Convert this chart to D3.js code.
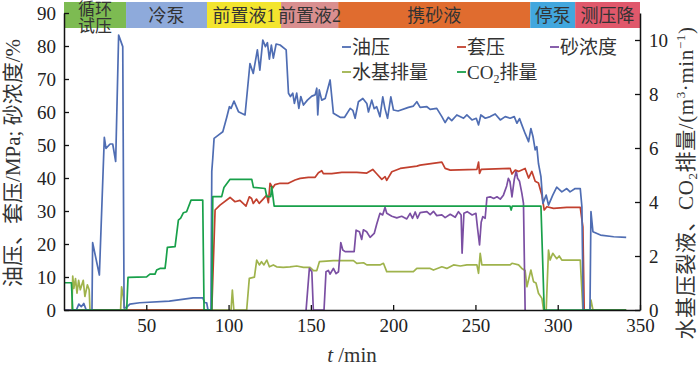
<!DOCTYPE html>
<html>
<head>
<meta charset="utf-8">
<script src="https://cdn.jsdelivr.net/npm/d3@7"></script>
<style>
	body { margin:0; background:#fff; }
	svg { display:block; }
	.tick text { font-family:'Liberation Serif','Noto Sans CJK SC',serif; font-size:19px; fill:#222; }
	.cn { font-family:'Liberation Serif','Noto Sans CJK SC',serif; fill:#333; }
</style>
</head>
<body>
<script>
// stages of the job (minutes)
var phaseNames = ['循环\n试压','冷泵','前置液1','前置液2','携砂液','停泵','测压降'];
var phaseStart = [0,37.7,86.9,131.9,166.6,283.3,310.6];
var phaseEnd = 350;
var phaseColors = ['#7dbb52','#8eaadb','#f3e52e','#d98f8f','#e06c2f','#42a7de','#e0586b'];

var xTicks = [50,100,150,200,250,300,350];
var leftTicks = [0,10,20,30,40,50,60,70,80,90];
var rightTicks = [0,2,4,6,8,10];

// 油压 MPa
var oilPressure = [[0,0],[7.5,0],[9,1.8],[10.5,1],[12,2],[13.5,0],[17,0],[17.4,20.4],[21.5,10.6],[24.5,52.3],[25.5,49],[28,50.3],[29.6,50.3],[31.4,45],[33.2,83.3],[35.7,79.8],[36.5,0.6],[38,0.8],[40,1.8],[46,2.2],[64,2.7],[78.5,3.7],[84.3,3.7],[85.5,2.2],[86.7,2.2],[87.5,0],[89.3,0],[89.8,42],[90.4,46],[91.2,52],[93.8,53],[96.5,54],[98.9,58.4],[100.5,61.6],[101.5,61.1],[103.3,63.3],[106,60.1],[110,59.1],[113,74.7],[115,71.7],[117.5,78.8],[119,72.7],[120.8,81.8],[122.4,79.8],[123.6,81],[124.8,76],[126,80.3],[127.2,76.3],[128.9,80.6],[131.3,80.3],[135,78.8],[136.4,65.7],[137.6,64.7],[139,65.7],[140,62.6],[141.4,65.7],[142.7,61.1],[143.9,64.7],[145.5,62.1],[147.9,63.6],[150.6,64.8],[152.6,65.2],[153.6,67.2],[154.2,59.1],[155.1,66.7],[156.6,63.6],[158.7,64.1],[161.7,69.7],[163.7,59.6],[167.8,58.4],[170.5,58.4],[173.9,61.1],[175.5,60.5],[176.9,58.1],[178.9,63.1],[181.6,64.1],[184,62.6],[185,60],[187,63.6],[188.5,61],[190,61.6],[192,58.6],[193.7,64.6],[195,61.1],[196.6,58.1],[198.6,64.6],[200.2,60.6],[203,60.3],[209.3,61.4],[212.3,61.8],[214.4,63.1],[216.4,61.4],[220.5,61.6],[222.5,60.8],[226.5,61.1],[229.6,58.6],[231.6,56.8],[233.6,58.4],[235.6,57.4],[238.7,59.1],[242.8,58.1],[244.8,59.1],[247.9,57.6],[250.5,58.1],[251.9,56.1],[253.3,59.1],[256,58.1],[259,58.6],[262,59.4],[265.1,57.6],[268.1,58.6],[271.1,58.1],[273.6,58.6],[275.2,56.6],[276.8,58],[278.2,56.1],[280.2,53.5],[282.3,51],[283.7,55],[285,52.5],[286.3,48.5],[287.3,49.5],[288.3,44.4],[289.8,40.4],[291,32.3],[293,34.8],[294.4,31.8],[297,34.8],[299.4,37.2],[302.5,35.8],[305.5,36.8],[307.5,35.8],[310.6,36.8],[313.7,36.8],[314.7,31.3],[315.5,0],[319.6,0],[320.2,29.8],[321.4,23.7],[326,22.7],[334,22.2],[341.6,22]];
// 套压 MPa
var casingPressure = [[0,0],[89.8,0],[91.8,30.3],[94.8,31.8],[100.9,34.1],[103.9,32.8],[106.9,33.2],[110.6,31.5],[112.6,34.3],[114,33.8],[115,32.3],[117,33.6],[118.6,32.3],[121,33.6],[123.2,34.8],[124.2,32.5],[125.2,38.4],[126.8,37],[128.2,38],[131.3,38.4],[136.3,38.4],[140.4,39.4],[143.5,39.9],[148.5,40.2],[152.6,40.2],[154.6,41.6],[156.6,42.2],[157.6,41.3],[162.7,41.3],[168.8,41.7],[177.9,41.7],[184,41.5],[187.6,42.6],[190,41.3],[193.1,39.6],[195.1,40.4],[196.1,39.3],[199.2,41.9],[204.3,42.9],[214.4,43.6],[216.4,43.9],[229.6,44.8],[231.6,42.9],[234.7,42.4],[250.9,42.6],[251.9,44.8],[252.5,41.4],[253.5,42.6],[271.1,42.9],[272.2,41.2],[274.2,42.4],[276.2,42],[280.2,42.9],[282.3,40],[284.3,42],[286.3,39],[288.3,38.5],[290.4,34.8],[291.8,30.3],[293.4,31.3],[297.5,30.8],[305.5,31.1],[313.7,31.1],[315.3,25.2],[316.1,0],[341.6,0]];
// 砂浓度 %
var sandConc = [[147.1,0],[149.1,12.6],[150.6,11.6],[151.5,0],[158,0],[159.2,11.6],[160.6,12],[161.7,10.9],[163.7,12.6],[165.3,11],[166.8,11.6],[168.2,20.4],[169.4,18.2],[170.8,17.7],[176.3,17.7],[177.5,24.2],[179.5,23.7],[180.9,21.4],[181.9,24.3],[183.9,23.7],[186,22],[188.5,23.2],[190,26],[192,29.3],[193.6,28.8],[195.1,31.1],[196.1,29.3],[199.2,28.4],[202.2,27.9],[205.2,28.4],[208.3,27.6],[210.3,29.3],[211.8,27.8],[213.4,29.7],[214.8,27.8],[216.4,29.5],[220.5,29.8],[222.5,28.9],[224.5,29.9],[226.5,28.6],[229.6,28.8],[231.6,28],[234.7,29],[237.7,28.1],[239.7,29.8],[241.3,28.8],[241.9,17.2],[243,29.3],[245,29.8],[248,28.8],[250.3,29.3],[251.3,24.7],[252.5,19.7],[253.5,26.6],[254.5,28.3],[255.9,27.8],[257,34.1],[259,34.3],[261.1,33.8],[263.1,34.3],[265.1,33.6],[267,34.8],[269,37.6],[270,39.9],[271,38.9],[272.2,34.3],[273.6,39.6],[274.8,42.2],[275.6,39.9],[276.8,39],[278.2,35.4],[279.2,32.3],[280.2,0]];
// 水基排量 m3/min
var waterRate = [[0,0],[4.8,0],[5.3,1.26],[6,0.8],[7,1.16],[7.9,0.62],[8.9,1.1],[9.9,0.75],[11.7,1.1],[12.7,0.5],[14.2,0.93],[15.3,0.75],[15.8,0],[34.4,0],[35,0.86],[36,0.5],[37,0],[101.5,0],[102.3,0.74],[103.2,0],[111,0],[112.6,1.17],[115.7,1.22],[117.1,1.85],[118.7,1.67],[120,1.79],[121.5,1.67],[123.2,1.85],[124.8,1.6],[127.2,1.67],[129.2,1.6],[133.2,1.58],[137.3,1.6],[141.4,1.63],[145.5,1.58],[149.5,1.58],[151.6,1.46],[153.6,1.46],[155.2,1.79],[163.6,1.83],[175.9,1.83],[177.9,1.73],[182,1.75],[184,1.67],[192,1.67],[194.1,1.73],[196.1,1.42],[212.3,1.42],[214.4,1.54],[222.5,1.54],[224.5,1.48],[229.6,1.6],[232.6,1.54],[236.7,1.67],[240.8,1.63],[244.8,1.67],[250.9,1.67],[251.9,1.36],[252.9,2.1],[253.9,1.67],[271.1,1.67],[272.2,1.73],[276.2,1.67],[278.2,1.54],[280.2,1.46],[281.3,0.86],[283.7,1.48],[285.3,1.05],[286.8,1],[288.3,0.62],[290.4,0.43],[291.4,0],[293,0],[294.4,2.22],[295.4,1.85],[297,2.1],[299.4,1.9],[300.9,2.0],[302.5,1.85],[313.7,1.85],[315.3,0],[319.6,0],[320.2,0.37],[321.4,0],[341.6,0]];
// CO2排量 m3/min
var co2Rate = [[0,1.01],[4.5,1.01],[5.3,0],[38.1,0],[38.9,1.21],[50.2,1.23],[52.2,1.33],[55.3,1.33],[56.3,1.48],[58.3,1.54],[61.4,1.54],[62,1.85],[62.8,2.32],[67.5,2.35],[69.5,3.33],[70.9,3.4],[72.5,3.6],[74.5,3.64],[77.2,4.07],[84.3,4.07],[85.1,0],[89.8,0],[90.4,4.2],[95.8,4.2],[97.2,4.54],[100.9,4.84],[114.1,4.84],[115.1,4.54],[122.2,4.5],[123.2,4.2],[125.6,4.2],[126.2,4.57],[127.7,3.85],[271,3.85],[271.7,3.7],[272.4,3.85],[289.8,3.85],[291.8,0],[341.6,0]];

var width = 700;
var height = 371;
var padL = 64, padR = 640, padT = 13, padB = 310;

var svg = d3.select('body')
			.append('svg')
			.attr('width',width)
			.attr('height',height);

var xScale = d3.scaleLinear().domain([0,350]).range([padL,padR]);
var yLeft = d3.scaleLinear().domain([0,90]).range([padB,padT]);
var yRight = d3.scaleLinear().domain([0,11]).range([padB,padT]);

// stage band on top
var band = svg.append('g');
band.selectAll('rect')
	.data(phaseNames)
	.enter()
	.append('rect')
	.attr('x',(d,i)=>xScale(phaseStart[i]))
	.attr('width',(d,i)=>xScale(i<phaseStart.length-1 ? phaseStart[i+1] : phaseEnd)-xScale(phaseStart[i]))
	.attr('y',2)
	.attr('height',26)
	.attr('fill',(d,i)=>phaseColors[i]);
band.selectAll('text')
	.data(phaseNames)
	.enter()
	.append('text')
	.attr('class','cn')
	.attr('font-size',18)
	.attr('text-anchor','middle')
	.attr('x',(d,i)=>(xScale(phaseStart[i])+xScale(i<phaseStart.length-1 ? phaseStart[i+1] : phaseEnd))/2)
	.each(function(d){
		var lines = d.split('\n');
		var t = d3.select(this);
		if(lines.length==1){
			t.attr('y',22).text(d);
		}else{
			t.attr('font-size',17);
			t.append('tspan').attr('x',t.attr('x')).attr('y',15).text(lines[0]);
			t.append('tspan').attr('x',t.attr('x')).attr('y',32).text(lines[1]);
		}
	});

// series
function drawLine(data,yScale,color){
	svg.append('path')
		.datum(data)
		.attr('fill','none')
		.attr('stroke',color)
		.attr('stroke-width',1.7)
		.attr('stroke-linejoin','round')
		.attr('d',d3.line().x(d=>xScale(d[0])).y(d=>yScale(d[1])));
}
drawLine(waterRate,yRight,'#9fb34c');
drawLine(sandConc,yLeft,'#7b4fa3');
drawLine(casingPressure,yLeft,'#c2402e');
drawLine(oilPressure,yLeft,'#4f6db3');
drawLine(co2Rate,yRight,'#18a04a');

// axes
var xAxis = svg.append('g')
				.attr('transform','translate(0,'+padB+')')
				.call(d3.axisBottom(xScale).tickValues(xTicks).tickSize(-5).tickSizeOuter(0).tickPadding(9));
var lAxis = svg.append('g')
				.attr('transform','translate('+padL+',0)')
				.call(d3.axisLeft(yLeft).tickValues(leftTicks).tickSize(-5).tickSizeOuter(0).tickPadding(8));
var rAxis = svg.append('g')
				.attr('transform','translate('+padR+',0)')
				.call(d3.axisRight(yRight).tickValues(rightTicks).tickSize(-5).tickSizeOuter(0).tickPadding(9));
svg.selectAll('.domain').attr('stroke','#111').attr('stroke-width',1.5);
svg.selectAll('.tick line').attr('stroke','#111').attr('stroke-width',1.3);

// axis titles
svg.append('text')
	.attr('class','cn')
	.attr('font-size',21)
	.attr('text-anchor','middle')
	.attr('transform','translate(20,163) rotate(-90)')
	.text('油压、套压/MPa; 砂浓度/%');
var rt = svg.append('text')
	.attr('class','cn')
	.attr('font-size',21)
	.attr('letter-spacing',0.6)
	.attr('text-anchor','middle')
	.attr('transform','translate(693,183) rotate(-90)');
rt.append('tspan').text('水基压裂液、CO');
rt.append('tspan').attr('font-size',13).attr('dy',4).text('2');
rt.append('tspan').attr('dy',-4).text('排量/(m');
rt.append('tspan').attr('font-size',13).attr('dy',-8).text('3');
rt.append('tspan').attr('dy',8).text('·min');
rt.append('tspan').attr('font-size',13).attr('dy',-8).text('−1');
rt.append('tspan').attr('dy',8).text(')');

var xt = svg.append('text')
	.attr('class','cn')
	.attr('font-size',21)
	.attr('text-anchor','middle')
	.attr('x',352)
	.attr('y',362);
xt.append('tspan').attr('font-style','italic').text('t');
xt.append('tspan').text(' /min');

// legend
var legendNames = ['油压','套压','砂浓度','水基排量','CO2排量'];
var legendColors = ['#4f6db3','#c2402e','#7b4fa3','#9fb34c','#18a04a'];
var legendX = [342,457,550,342,457];
var legendY = [47,47,47,72,72];
var legend = svg.append('g')
				.selectAll('g')
				.data(legendNames)
				.enter()
				.append('g')
				.attr('transform',(d,i)=>'translate('+legendX[i]+','+legendY[i]+')');
legend.append('line')
	.attr('x1',0).attr('x2',9)
	.attr('y1',0).attr('y2',0)
	.attr('stroke',(d,i)=>legendColors[i])
	.attr('stroke-width',1.8);
legend.append('text')
	.attr('class','cn')
	.attr('font-size',19)
	.attr('x',10)
	.attr('y',7)
	.each(function(d){
		var t = d3.select(this);
		if(d.indexOf('CO2')==0){
			t.append('tspan').text('CO');
			t.append('tspan').attr('font-size',12).attr('dy',4).text('2');
			t.append('tspan').attr('dy',-4).text(d.slice(3));
		}else{
			t.text(d);
		}
	});
</script>
</body>
</html>
